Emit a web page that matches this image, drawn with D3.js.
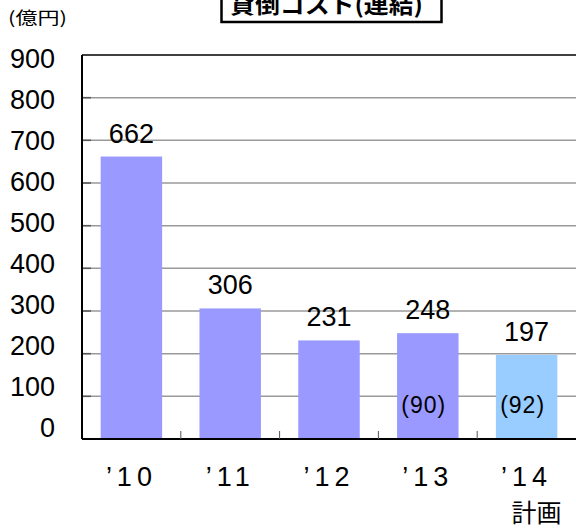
<!DOCTYPE html>
<html>
<head>
<meta charset="utf-8">
<script src="https://cdn.jsdelivr.net/npm/d3@7"></script>
<style>
  body { margin: 0; background: #fff; }
  text { font-family: "Liberation Sans", Arial, sans-serif; fill: #000; }
  .jp { font-family: "Noto Sans CJK JP", sans-serif; }
</style>
</head>
<body>
<svg id="chart" width="576" height="530"></svg>
<script>
// data
var years = ["’10", "’11", "’12", "’13", "’14"];
var costs = [662, 306, 231, 248, 197];
var inner = [null, null, null, "(90)", "(92)"];
var plan = [false, false, false, false, true];
var yTicks = [0, 100, 200, 300, 400, 500, 600, 700, 800, 900];

var svg = d3.select("#chart");
var plotL = 82, plotR = 576, plotT = 55, plotB = 439;

var x = d3.scaleBand()
    .domain(years)
    .range([plotL, plotR])
    .paddingInner(0.378)
    .paddingOuter(0.189);

var y = d3.scaleLinear()
    .domain([0, 900])
    .range([plotB, plotT]);

// tick label baselines sit a little off the grid in the original
var yLab = d3.scaleLinear()
    .domain([0, 900])
    .range([436.5, 67.5]);

var gridVals = yTicks.filter(function(d) { return d > 0 && d < 900; });

// gridlines
svg.append("g")
  .selectAll("line")
  .data(gridVals)
  .enter().append("line")
    .attr("x1", plotL).attr("x2", plotR)
    .attr("y1", y).attr("y2", y)
    .attr("stroke", "#9a9a9a")
    .attr("stroke-width", 1.5);

// small dark ticks inside the left axis
svg.append("g")
  .selectAll("line")
  .data(gridVals)
  .enter().append("line")
    .attr("x1", plotL).attr("x2", plotL + 9)
    .attr("y1", y).attr("y2", y)
    .attr("stroke", "#555")
    .attr("stroke-width", 1.5);

// bars
svg.append("g")
  .selectAll("rect")
  .data(costs)
  .enter().append("rect")
    .attr("x", function(d, i) { return x(years[i]); })
    .attr("y", function(d) { return y(d); })
    .attr("width", x.bandwidth())
    .attr("height", function(d) { return y(0) - y(d); })
    .attr("fill", function(d, i) { return plan[i] ? "#99ccff" : "#9999ff"; });

// frame
svg.append("line")
    .attr("x1", plotL).attr("x2", plotR).attr("y1", plotT).attr("y2", plotT)
    .attr("stroke", "#000").attr("stroke-width", 1.5);
svg.append("line")
    .attr("x1", plotL).attr("x2", plotL).attr("y1", plotT).attr("y2", plotB)
    .attr("stroke", "#000").attr("stroke-width", 2);
svg.append("line")
    .attr("x1", plotL).attr("x2", plotR).attr("y1", plotB).attr("y2", plotB)
    .attr("stroke", "#000").attr("stroke-width", 2);

// category separators on the baseline
svg.append("g")
  .selectAll("line")
  .data(years.slice(1))
  .enter().append("line")
    .attr("x1", function(d) { return x(d) - x.step() * x.paddingInner() / 2; })
    .attr("x2", function(d) { return x(d) - x.step() * x.paddingInner() / 2; })
    .attr("y1", plotB - 8).attr("y2", plotB)
    .attr("stroke", "#555");

// y tick labels
svg.append("g")
  .selectAll("text")
  .data(yTicks)
  .enter().append("text")
    .attr("x", 55)
    .attr("y", yLab)
    .attr("text-anchor", "end")
    .style("font-size", "27px")
    .text(function(d) { return d; });

// value labels
svg.append("g")
  .selectAll("text")
  .data(costs)
  .enter().append("text")
    .attr("x", function(d, i) { return x(years[i]) + x.bandwidth() / 2; })
    .attr("y", function(d) { return y(d) - 14; })
    .attr("text-anchor", "middle")
    .style("font-size", "27px")
    .text(function(d) { return d; });

// figures in brackets inside bars
svg.append("g")
  .selectAll("text")
  .data(years.filter(function(d, i) { return inner[i]; }))
  .enter().append("text")
    .attr("x", function(d) { return x(d) + x.bandwidth() / 2 - 4; })
    .attr("y", y(60))
    .attr("text-anchor", "middle")
    .style("font-size", "23px")
    .style("letter-spacing", "1px")
    .text(function(d) { return inner[years.indexOf(d)]; });

// x labels
svg.append("g")
  .selectAll("text")
  .data(years)
  .enter().append("text")
    .attr("x", function(d) { return x(d) + x.bandwidth() / 2; })
    .attr("y", 486)
    .attr("text-anchor", "middle")
    .style("font-size", "27px")
    .style("letter-spacing", "5px")
    .text(function(d) { return d; });

svg.append("text")
    .attr("class", "jp")
    .attr("x", x(years[4]) + x.bandwidth() / 2 + 10)
    .attr("y", 522)
    .attr("text-anchor", "middle")
    .style("font-size", "25px")
    .text("計画");

// unit
svg.append("text")
    .attr("class", "jp")
    .attr("x", 8)
    .attr("y", 24)
    .attr("textLength", 59)
    .attr("lengthAdjust", "spacingAndGlyphs")
    .style("font-size", "17px")
    .text("(億円)");

// title box, cut at the top of the image
svg.append("rect")
    .attr("x", 221.5).attr("y", -10)
    .attr("width", 220).attr("height", 32)
    .attr("fill", "#fff")
    .attr("stroke", "#000")
    .attr("stroke-width", 2.5);
svg.append("text")
    .attr("class", "jp")
    .attr("x", 230)
    .attr("y", 13)
    .attr("textLength", 193)
    .attr("lengthAdjust", "spacingAndGlyphs")
    .style("font-size", "23px")
    .style("font-weight", "bold")
    .text("貸倒コスト(連結)");
</script>
</body>
</html>
